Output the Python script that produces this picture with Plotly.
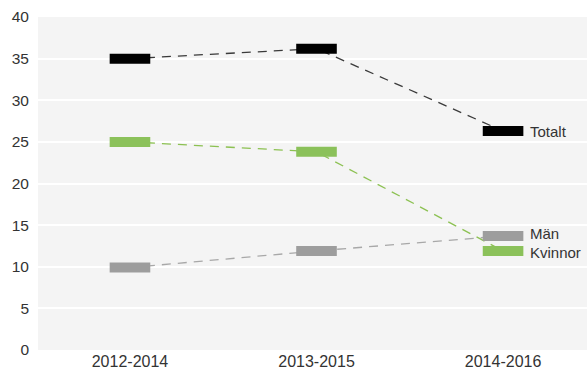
import plotly.graph_objects as go

periods = ["2012-2014", "2013-2015", "2014-2016"]
totalt = [35.0, 36.2, 26.3]
kvinnor = [25.0, 23.8, 11.9]
man = [9.9, 11.9, 13.7]
series_names = ["Totalt", "Män", "Kvinnor"]
y_ticks = [0, 5, 10, 15, 20, 25, 30, 35, 40]

series = [
    ("Totalt", totalt, "#3a3a3a", "#000000"),
    ("Män", man, "#a8a8a8", "#9d9d9d"),
    ("Kvinnor", kvinnor, "#8cc152", "#8bc15a"),
]

fig = go.Figure()
for name, vals, lcol, mcol in series:
    fig.add_trace(go.Scatter(
        x=periods, y=vals, mode="lines", name=name,
        line=dict(color=lcol, width=1.3, dash="9px,7px"),
        hoverinfo="skip", showlegend=False,
    ))
for name, vals, lcol, mcol in series:
    fig.add_trace(go.Scatter(
        x=periods, y=vals, mode="markers", name=name,
        marker=dict(symbol="line-ew", size=29, color=mcol,
                    line=dict(color=mcol, width=10)),
        showlegend=False,
    ))

label_shift = {"Totalt": 0, "Män": 2, "Kvinnor": -2}
for name, vals, lcol, mcol in series:
    fig.add_annotation(
        x=periods[-1], y=vals[-1], text=name, showarrow=False,
        xanchor="left", yanchor="middle", xshift=25, yshift=label_shift[name],
        font=dict(family="Liberation Sans, Arial, sans-serif", size=15, color="#333333"),
    )

fig.update_layout(
    width=587, height=373,
    margin=dict(l=38, r=0, t=17, b=23),
    paper_bgcolor="white", plot_bgcolor="#f4f4f4",
    font=dict(family="Liberation Sans, Arial, sans-serif", size=16, color="#333333"),
    xaxis=dict(type="category", range=[-0.493, 2.45], showgrid=False,
               zeroline=False, showline=False, ticks="", fixedrange=True,
               ticklabelstandoff=0),
    yaxis=dict(range=[0, 40], tickvals=y_ticks, showgrid=True, gridcolor="white",
               gridwidth=2, zeroline=False, showline=False, ticks="",
               ticklabelstandoff=8, tickfont=dict(size=15.5), fixedrange=True),
)

fig.write_html("out.html")
